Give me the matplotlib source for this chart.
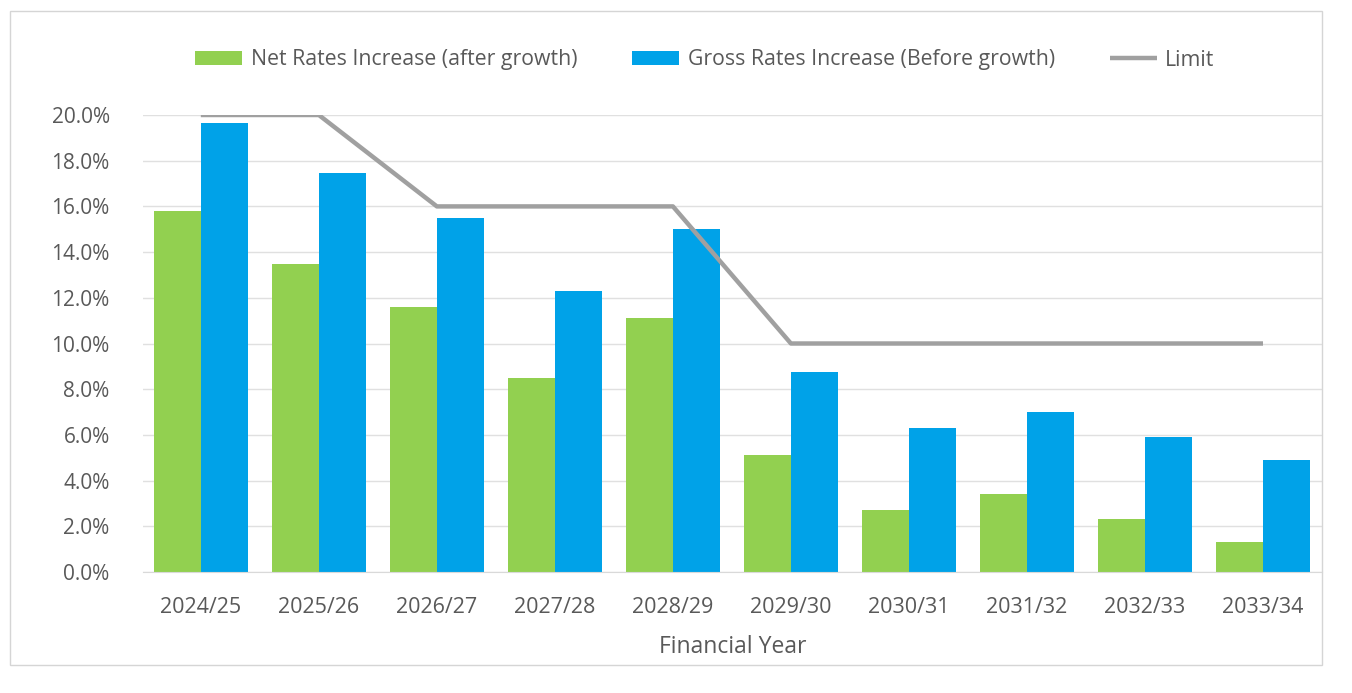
import matplotlib.pyplot as plt
import numpy as np
from matplotlib.patches import Rectangle

years = ['2024/25', '2025/26', '2026/27', '2027/28', '2028/29',
         '2029/30', '2030/31', '2031/32', '2032/33', '2033/34']
net = [15.8, 13.5, 11.6, 8.5, 11.1, 5.1, 2.7, 3.4, 2.3, 1.3]
gross = [19.65, 17.45, 15.5, 12.3, 15.0, 8.75, 6.3, 7.0, 5.9, 4.9]
limit = [20, 20, 16, 16, 16, 10, 10, 10, 10, 10]

plt.rcParams['font.family'] = ['Open Sans', 'DejaVu Sans']

fig = plt.figure(figsize=(13.52, 6.93), dpi=100)
ax = fig.add_axes([143/1352, 1 - 572/693, (1322 - 143)/1352, (572 - 115)/693])

x = np.arange(len(years))
w = 0.4
b1 = ax.bar(x - w/2, net, w, color='#92D050', label='Net Rates Increase (after growth)', zorder=2)
b2 = ax.bar(x + w/2, gross, w, color='#00A2E8', label='Gross Rates Increase (Before growth)', zorder=2)
l1, = ax.plot(x, limit, color='#A0A0A0', lw=3.2, label='Limit', zorder=3, solid_capstyle='butt')

ax.set_xlim(-0.49, 9.5)
ax.set_ylim(0, 20)
ax.set_yticks(np.arange(0, 21, 2))
ax.set_yticklabels([f'{v:.1f}%' for v in np.arange(0, 21, 2)])
ax.set_xticks(x)
ax.set_xticklabels(years)
ax.tick_params(axis='x', length=0, labelsize=15.5, colors='#595959', pad=18)
ax.tick_params(axis='y', length=0, labelsize=15, colors='#595959', pad=24)
ax.grid(axis='y', color='#E0E0E0', lw=1, zorder=0)
for s in ['top', 'right', 'left']:
    ax.spines[s].set_visible(False)
ax.spines['bottom'].set_color('#D9D9D9')
ax.set_xlabel('Financial Year', fontsize=16.5, color='#595959', labelpad=12)

fig.legend(handles=[b1, b2, l1], loc='center', bbox_to_anchor=(705/1352, 1 - 60/693), ncol=3,
           frameon=False, fontsize=15.3, labelcolor='#595959', handlelength=2.2, handleheight=0.6,
           columnspacing=2.6, handletextpad=0.4)

fig.patches.append(Rectangle((10/1352, 1 - 665/693), (1322 - 10)/1352, (665 - 11)/693,
                             transform=fig.transFigure, fill=False, edgecolor='#D5D5D5', lw=1))

fig.savefig('out.png', dpi=100, facecolor='white')
